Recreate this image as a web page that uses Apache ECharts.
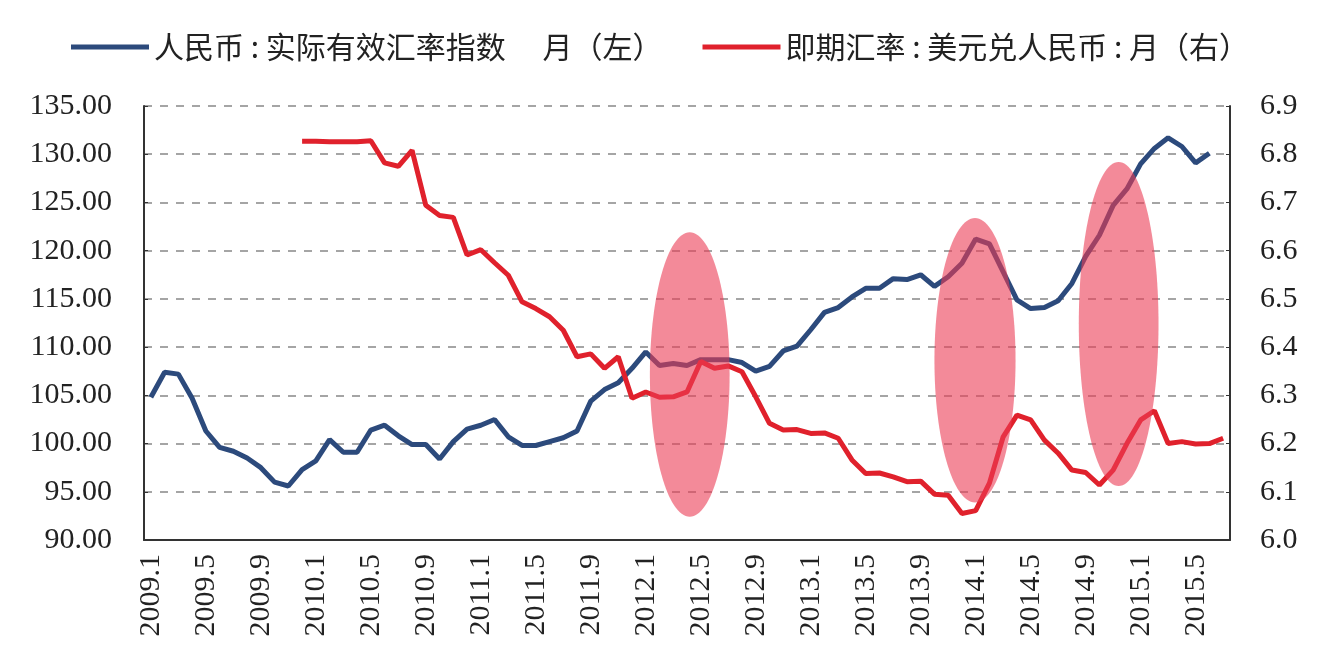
<!DOCTYPE html>
<html>
<head>
<meta charset="utf-8">
<script src="https://cdn.jsdelivr.net/npm/echarts@6/dist/echarts.min.js"></script>
<style>
  html, body { margin: 0; padding: 0; background: #fff; }
  #main { width: 1338px; height: 656px; }
</style>
</head>
<body>
<div id="main"></div>
<script>
// 月份 2009.1 ~ 2015.7
var months = [];
for (var y = 2009; y <= 2015; y++) {
  for (var m = 1; m <= 12; m++) {
    if (y === 2015 && m > 7) break;
    months.push(y + '.' + m);
  }
}

// 人民币实际有效汇率指数（左轴），2009.1 ~ 2015.6
var reer = [
  104.8, 107.4, 107.2, 104.7, 101.3, 99.6, 99.2, 98.5, 97.5, 96.0, 95.6, 97.3,
  98.2, 100.4, 99.1, 99.1, 101.4, 101.9, 100.8, 99.9, 99.9, 98.4, 100.2, 101.5,
  101.9, 102.5, 100.7, 99.8, 99.8, 100.2, 100.6, 101.3, 104.4, 105.6, 106.3, 107.8,
  109.5, 108.1, 108.3, 108.1, 108.7, 108.7, 108.7, 108.4, 107.5, 108.0, 109.6, 110.1,
  111.8, 113.6, 114.1, 115.2, 116.1, 116.1, 117.1, 117.0, 117.5, 116.3, 117.3, 118.7,
  121.2, 120.7, 117.8, 114.9, 114.0, 114.1, 114.8, 116.6, 119.4, 121.6, 124.7, 126.4,
  129.0, 130.6, 131.7, 130.8, 129.1, 130.1
];

// 即期汇率 美元兑人民币（右轴），2009.12 起
var spot = [
  null, null, null, null, null, null, null, null, null, null, null,
  6.827,
  6.827, 6.826, 6.826, 6.826, 6.828, 6.782, 6.775, 6.808, 6.694, 6.673, 6.669, 6.591,
  6.602, 6.575, 6.549, 6.494, 6.480, 6.463, 6.435, 6.380, 6.386, 6.356, 6.380, 6.294,
  6.307, 6.296, 6.297, 6.307, 6.370, 6.356, 6.361, 6.349, 6.297, 6.242, 6.228, 6.229,
  6.221, 6.222, 6.211, 6.166, 6.138, 6.139, 6.131, 6.121, 6.122, 6.095, 6.093, 6.055,
  6.061, 6.118, 6.214, 6.259, 6.249, 6.207, 6.180, 6.145, 6.140, 6.114, 6.145, 6.200,
  6.249, 6.268, 6.200, 6.204, 6.199, 6.200, 6.211
];

// 标注的椭圆: [中心月份序号, 半宽(月), 中心值(左轴), 半高(左轴)]
var highlights = [
  [39.2, 2.9, 107.15, 14.75],
  [59.95, 2.95, 108.65, 14.75],
  [70.4, 2.9, 112.4, 16.8]
];

var serif = '"Liberation Serif", "DejaVu Serif", serif';
var cjk = '"Noto Sans CJK SC", sans-serif';

var chart = echarts.init(document.getElementById('main'));

chart.setOption({
  animation: false,
  color: ['#2c4a7c', '#e0212c'],
  legend: {
    top: 27,
    left: 66,
    itemWidth: 78,
    itemHeight: 5,
    itemGap: 40,
    icon: 'rect',
    textStyle: { fontFamily: cjk, fontSize: 30, color: '#222' },
    data: ['人民币 : 实际有效汇率指数　 月（左）', '即期汇率 : 美元兑人民币 : 月（右）']
  },
  grid: { left: 144, right: 108, top: 106, bottom: 116 },
  xAxis: {
    type: 'category',
    data: months,
    boundaryGap: true,
    axisLine: { lineStyle: { color: '#333', width: 2 } },
    axisTick: { inside: true, length: 8, interval: 3, lineStyle: { color: '#333', width: 1.5 } },
    axisLabel: {
      interval: 3,
      rotate: 90,
      margin: 14,
      fontFamily: serif,
      fontSize: 30,
      color: '#222'
    },
    splitLine: { show: false }
  },
  yAxis: [
    {
      type: 'value',
      min: 90,
      max: 135,
      interval: 5,
      axisLine: { show: true, lineStyle: { color: '#333', width: 2 } },
      axisTick: { show: true, inside: true, length: 4, lineStyle: { color: '#333' } },
      axisLabel: {
        margin: 32,
        fontFamily: serif,
        fontSize: 30,
        color: '#222',
        formatter: function (v) { return v.toFixed(2); }
      },
      splitLine: { lineStyle: { color: '#888', width: 1.5, type: [8, 8] } }
    },
    {
      type: 'value',
      min: 6.0,
      max: 6.9,
      interval: 0.1,
      axisLine: { show: true, lineStyle: { color: '#333', width: 2 } },
      axisTick: { show: true, inside: true, length: 4, lineStyle: { color: '#333' } },
      axisLabel: {
        margin: 30,
        fontFamily: serif,
        fontSize: 30,
        color: '#222',
        formatter: function (v) { return v.toFixed(1); }
      },
      splitLine: { show: false }
    }
  ],
  series: [
    {
      name: '人民币 : 实际有效汇率指数　 月（左）',
      type: 'line',
      yAxisIndex: 0,
      data: reer,
      showSymbol: false,
      symbol: 'none',
      lineStyle: { width: 5 }
    },
    {
      name: '即期汇率 : 美元兑人民币 : 月（右）',
      type: 'line',
      yAxisIndex: 1,
      data: spot,
      showSymbol: false,
      symbol: 'none',
      connectNulls: false,
      lineStyle: { width: 5 }
    }
  ]
});

// 椭圆标注：按坐标轴换算位置
var x0 = chart.convertToPixel({ xAxisIndex: 0 }, 0);
var x1 = chart.convertToPixel({ xAxisIndex: 0 }, 1);
var step = x1 - x0;
var shapes = highlights.map(function (h) {
  var cy = chart.convertToPixel({ yAxisIndex: 0 }, h[2]);
  var top = chart.convertToPixel({ yAxisIndex: 0 }, h[2] + h[3]);
  return {
    type: 'ellipse',
    z: 100,
    shape: { cx: x0 + h[0] * step, cy: cy, rx: h[1] * step, ry: cy - top },
    style: { fill: 'rgba(235, 60, 85, 0.6)' },
    silent: true
  };
});
chart.setOption({ graphic: shapes });
</script>
</body>
</html>
